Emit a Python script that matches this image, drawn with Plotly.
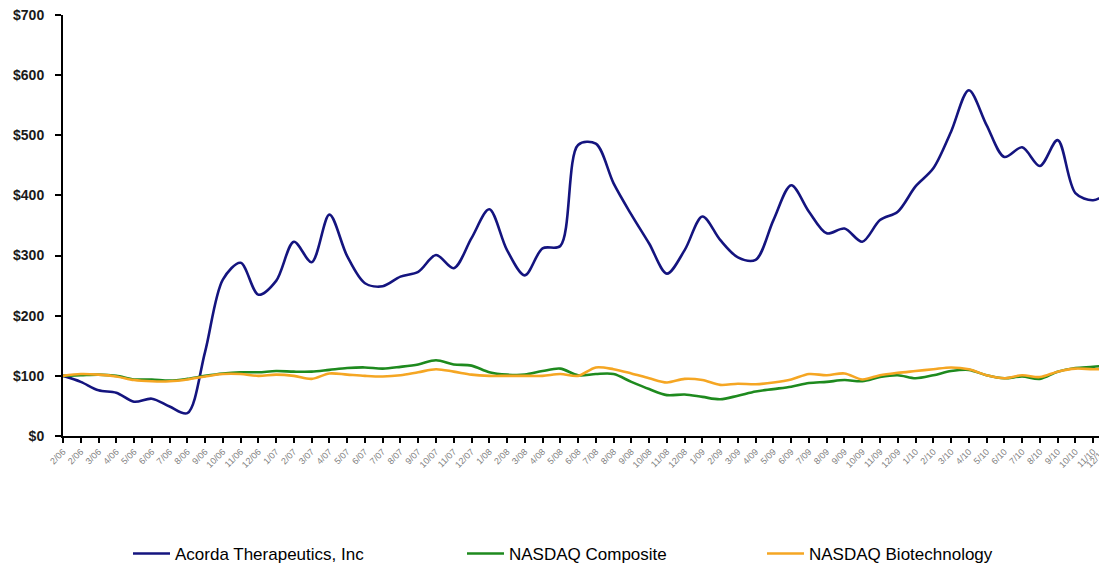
import plotly.graph_objects as go

categories = ["2/06", "2/06", "3/06", "4/06", "5/06", "6/06", "7/06", "8/06", "9/06", "10/06", "11/06", "12/06",
              "1/07", "2/07", "3/07", "4/07", "5/07", "6/07", "7/07", "8/07", "9/07", "10/07", "11/07", "12/07",
              "1/08", "2/08", "3/08", "4/08", "5/08", "6/08", "7/08", "8/08", "9/08", "10/08", "11/08", "12/08",
              "1/09", "2/09", "3/09", "4/09", "5/09", "6/09", "7/09", "8/09", "9/09", "10/09", "11/09", "12/09",
              "1/10", "2/10", "3/10", "4/10", "5/10", "6/10", "7/10", "8/10", "9/10", "10/10", "11/10", "12/10"]

acorda = [100, 90, 76, 72, 57, 62, 49, 38, 140, 260, 288, 235,
          258, 323, 289, 368, 299, 254, 249, 265, 273, 301, 279, 329,
          377, 309, 267, 312, 316, 484, 486, 420, 368, 320, 270, 309,
          365, 326, 297, 293, 359, 417, 373, 337, 345, 323, 359, 373,
          415, 445, 506, 575, 517, 464, 480, 449, 492, 404, 392, 408]

nasdaq = [100, 101, 102, 100, 94, 94, 92, 95, 100, 104, 106, 106,
          108, 107, 107, 110, 113, 114, 112, 115, 119, 126, 119, 117,
          106, 102, 102, 108, 112, 101, 103, 103, 90, 78, 68, 69,
          65, 61, 67, 74, 78, 82, 88, 90, 93, 91, 98, 101,
          96, 101, 108, 110, 101, 96, 99, 95, 107, 113, 115, 118]

biotech = [100, 103, 102, 99, 93, 91, 91, 94, 99, 103, 103, 100,
           102, 100, 95, 104, 102, 100, 99, 101, 106, 111, 107, 102,
           100, 100, 100, 100, 103, 100, 114, 111, 104, 96, 89, 95,
           93, 85, 87, 86, 89, 94, 103, 101, 104, 94, 101, 105,
           108, 111, 114, 111, 101, 96, 101, 98, 107, 112, 111, 112]

y_ticks = [0, 100, 200, 300, 400, 500, 600, 700]

series_names = ["Acorda Therapeutics, Inc", "NASDAQ Composite", "NASDAQ Biotechnology"]
series_colors = ["#14147F", "#1E8A1E", "#F5A623"]

x = list(range(len(categories)))
x_max = 58.78

fig = go.Figure()
legend_ids = ["legend", "legend2", "legend3"]
for vals, name, col, lg in zip([acorda, nasdaq, biotech], series_names, series_colors, legend_ids):
    fig.add_trace(go.Scatter(x=x, y=vals, mode="lines", name=name, legend=lg, showlegend=True,
                             line=dict(color=col, width=2.6, shape="spline", smoothing=0.9)))

font_legend = dict(family="Liberation Sans Narrow, Arial Narrow, Liberation Sans, Arial", size=17, color="#000000")
leg_common = dict(orientation="h", yanchor="middle", y=-0.28, xanchor="left", font=font_legend,
                  bgcolor="rgba(0,0,0,0)", itemwidth=37, tracegroupgap=0)
plot_w = 1044

fig.update_layout(
    width=1099, height=556,
    showlegend=True,
    margin=dict(l=55, r=0, t=7, b=128, autoexpand=False),
    paper_bgcolor="white", plot_bgcolor="white",
    legend=dict(x=(128 - 63) / plot_w, **leg_common),
    legend2=dict(x=(462 - 63) / plot_w, **leg_common),
    legend3=dict(x=(762 - 63) / plot_w, **leg_common),
    xaxis=dict(range=[0, x_max], tickvals=x, ticktext=categories, tickangle=-45, automargin=False,
               tickfont=dict(family="Liberation Sans, Arial", size=9, color="#7F7F7F"),
               showgrid=False, zeroline=False, showline=True, linecolor="#000000", linewidth=2,
               ticks="outside", ticklen=5, tickcolor="#000000", tickwidth=1.5),
    yaxis=dict(range=[0, 700], tickvals=y_ticks, ticktext=["$" + str(v) for v in y_ticks], automargin=False,
               ticklabeloverflow="allow",
               tickfont=dict(family="Liberation Sans, Arial", size=14, color="#1a1a1a", weight="bold"),
               showgrid=False, zeroline=False, showline=True, linecolor="#000000", linewidth=2,
               ticks="outside", ticklen=6, tickcolor="#000000", tickwidth=1.5, ticklabelstandoff=8),
)

# partially visible last tick label at the right edge
fig.add_annotation(xref="paper", yref="paper", x=x[-1] / x_max, y=0, yshift=-8,
                   text=categories[-1], showarrow=False, textangle=-45, xanchor="right", yanchor="top",
                   font=dict(family="Liberation Sans, Arial", size=9, color="#7F7F7F"))

fig.write_html("out.html")
